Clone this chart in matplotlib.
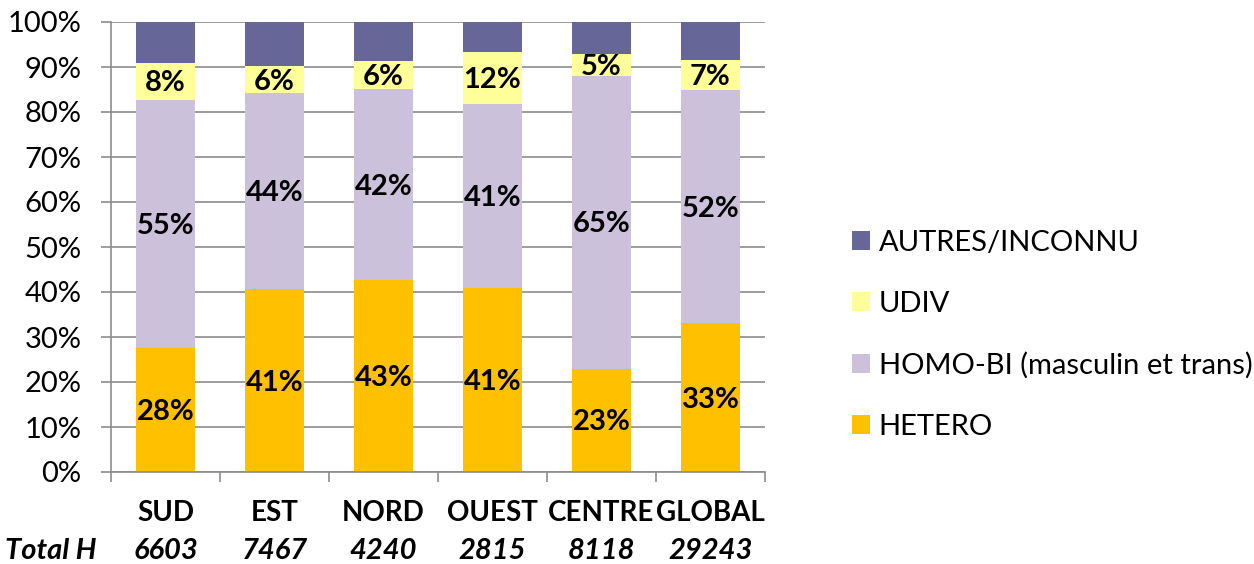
import matplotlib
matplotlib.use("Agg")
import matplotlib.pyplot as plt
from matplotlib.patches import Patch
from matplotlib.transforms import blended_transform_factory

plt.rcParams['font.family'] = ['Lato', 'DejaVu Sans']

categories = ["SUD", "EST", "NORD", "OUEST", "CENTRE", "GLOBAL"]
totals = ["6603", "7467", "4240", "2815", "8118", "29243"]
total_label = "Total H"

hetero = [27.5, 40.6, 42.7, 41.0, 23.0, 33.1]
homo_bi = [55.2, 43.6, 42.4, 40.7, 65.0, 51.8]
udiv = [8.3, 6.1, 6.2, 11.7, 4.8, 6.6]
autres = [9.0, 9.7, 8.7, 6.6, 7.2, 8.5]

series_names = ["HETERO", "HOMO-BI (masculin et trans)", "UDIV", "AUTRES/INCONNU"]
series_values = [hetero, homo_bi, udiv, autres]
series_colors = ["#FFC000", "#CCC1DA", "#FFFF99", "#666699"]
labelled = [True, True, True, False]

FS = 21
W, H = 1254, 564
fig = plt.figure(figsize=(W / 100, H / 100), dpi=100)
ax = fig.add_axes([111 / W, (H - 472) / H, (765 - 111) / W, (472 - 22) / H])

x = list(range(len(categories)))
bottom = [0.0] * len(categories)
handles = []
for name, vals, col, lab in zip(series_names, series_values, series_colors, labelled):
    ax.bar(x, vals, width=0.55, bottom=bottom, color=col, edgecolor="none", zorder=2)
    if lab:
        for xi, b, v in zip(x, bottom, vals):
            ax.text(xi, b + v / 2 - 0.5, f"{round(v):d}%", ha="center", va="center",
                    fontsize=FS, fontweight="bold", color="black", zorder=3)
    bottom = [b + v for b, v in zip(bottom, vals)]
    handles.append(Patch(facecolor=col, edgecolor="none", label=name))

ax.set_xlim(-0.5, len(categories) - 0.5)
ax.set_ylim(0, 100)
ax.set_yticks(range(0, 101, 10))
ax.set_yticklabels([f"{t}%" for t in range(0, 101, 10)], fontsize=FS)
ax.set_xticks([i - 0.5 for i in range(len(categories) + 1)])
ax.set_xticklabels([])
ax.grid(axis="y", color="#8C8C8C", linewidth=1.2, zorder=0)
ax.set_axisbelow(True)
for s in ["top", "right"]:
    ax.spines[s].set_visible(False)
for s in ["left", "bottom"]:
    ax.spines[s].set_color("#8C8C8C")
    ax.spines[s].set_linewidth(1.2)
ax.tick_params(axis="both", direction="out", length=7.2, width=1.2, color="#8C8C8C")
ax.tick_params(axis="y", pad=14)

trans = blended_transform_factory(ax.transData, fig.transFigure)
for xi, c, t in zip(x, categories, totals):
    ax.text(xi, (H - 513) / H, c, transform=trans, ha="center", va="center",
            fontsize=20, fontweight="bold")
    ax.text(xi, (H - 551) / H, t, transform=trans, ha="center", va="center",
            fontsize=FS, fontweight="bold", fontstyle="italic")
fig.text(5 / W, (H - 551) / H, total_label, ha="left", va="center",
         fontsize=FS, fontweight="bold", fontstyle="italic")

fig.legend(handles=handles[::-1], loc="center left",
           bbox_to_anchor=(852 / W, (H - 335) / H), frameon=False, fontsize=FS,
           handlelength=0.62, handleheight=0.62, handletextpad=0.3,
           labelspacing=1.2, borderaxespad=0, borderpad=0)

fig.savefig("out.png", dpi=100)
